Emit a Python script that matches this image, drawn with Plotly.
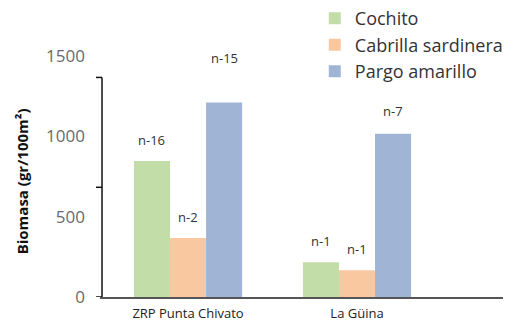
import plotly.graph_objects as go

# Biomass by site and species
sites = ["ZRP Punta Chivato", "La Güina"]
species = ["Cochito", "Cabrilla sardinera", "Pargo amarillo"]
cochito = [847, 216]
cabrilla = [367, 166]
pargo = [1211, 1017]
n_cochito = ["n-16", "n-1"]
n_cabrilla = ["n-2", "n-1"]
n_pargo = ["n-15", "n-7"]
y_tick_values = [0, 500, 1000, 1500]
spine_ticks = [0, 683, 1367]

colors = ["#C3DDA9", "#F9C8A0", "#A0B5D6"]
font_family = "Open Sans, Lato, sans-serif"

series = [cochito, cabrilla, pargo]
labels = [n_cochito, n_cabrilla, n_pargo]
# extra vertical lift (px) for each count label, per series and site
label_lift = [[10, 10], [10, 10], [33, 12]]

fig = go.Figure()
for name, vals, col in zip(species, series, colors):
    fig.add_trace(go.Bar(name=name, x=sites, y=vals, marker=dict(color=col, line=dict(width=0))))

bargap = 0.36
bar_w = (1 - bargap) / len(series)
for s, (vals, labs) in enumerate(zip(series, labels)):
    for i, (v, lab) in enumerate(zip(vals, labs)):
        fig.add_annotation(
            x=i + (s - 1) * bar_w, y=v, xref="x", yref="y",
            text=lab, showarrow=False, yanchor="bottom", yshift=label_lift[s][i],
            font=dict(size=13, color="#333333", family=font_family),
        )

y_top = 1600
plot_w = 516 - 100 - 13
spine_x = 0.005
tick_len = 6 / plot_w

# short left spine with its own tick marks
fig.add_shape(type="line", xref="paper", yref="y", x0=spine_x, x1=spine_x,
              y0=spine_ticks[0], y1=spine_ticks[-1], line=dict(color="#111111", width=1.5))
for t in spine_ticks:
    fig.add_shape(type="line", xref="paper", yref="y", x0=spine_x - tick_len, x1=spine_x,
                  y0=t, y1=t, line=dict(color="#111111", width=1.5))

fig.update_layout(
    width=516, height=321,
    margin=dict(l=100, r=13, t=40, b=24, autoexpand=False),
    paper_bgcolor="white", plot_bgcolor="white",
    barmode="group", bargap=bargap, bargroupgap=0,
    font=dict(family=font_family),
    showlegend=True,
    legend=dict(
        x=0.533, y=1.155, xanchor="left", yanchor="top",
        font=dict(size=18, color="#333333", family=font_family),
        bgcolor="rgba(0,0,0,0)", tracegroupgap=0,
    ),
    xaxis=dict(
        range=[-0.521, 1.864], showgrid=False, zeroline=False, automargin=False,
        showline=True, linecolor="#555555", linewidth=1.5,
        ticks="", tickfont=dict(size=13, color="#222222", family=font_family),
        ticklabelstandoff=4,
    ),
    yaxis=dict(
        range=[0, y_top], showgrid=False, zeroline=False, showline=False, automargin=False,
        tickvals=y_tick_values, ticks="", ticklabelstandoff=14,
        tickfont=dict(size=17, color="#6a6a6a", family=font_family),
    ),
)

# vertical axis title, centred 22 px from the left edge
fig.add_annotation(
    x=(22 - 100) / plot_w, y=0.45, xref="paper", yref="paper",
    xanchor="center", yanchor="middle", textangle=-90,
    text="<b>Biomasa (gr/100m²)</b>", showarrow=False,
    font=dict(size=15, color="#111111", family=font_family),
)

fig.write_html("out.html")
